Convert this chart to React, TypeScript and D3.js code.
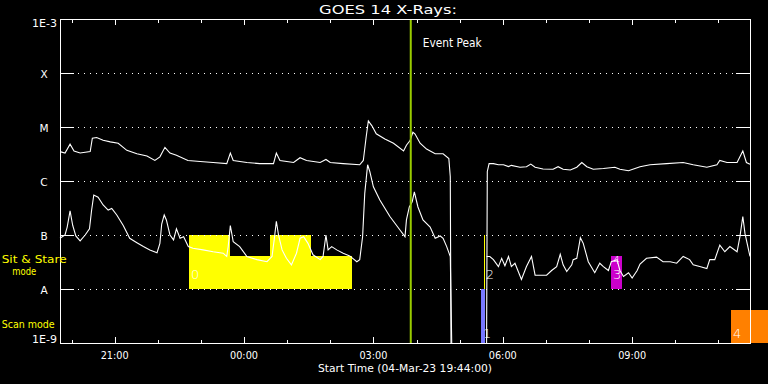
import React from 'react';
import * as d3 from 'd3';

// ---------- data ----------
const START = Date.UTC(2023, 2, 4, 19, 44, 0);
const DURATION_MIN = 960;
const EVENT_PEAK_MIN = 488;
const TITLE = 'GOES 14 X-Rays:';

const CLASS_FLUX = [1e-9, 1e-8, 1e-7, 1e-6, 1e-5, 1e-4, 1e-3];
const CLASS_LABELS = ['1E-9', 'A', 'B', 'C', 'M', 'X', '1E-3'];

// minutes since start, flux (W/m^2); null = data gap
const xrsLong: [number, number | null][] = [
  [0, 3.5e-6], [7, 3.3e-6], [14, 4.8e-6], [19.5, 3.6e-6], [28, 3.3e-6], [42, 3.5e-6], [45, 6.2e-6],
  [51, 6.4e-6], [60, 5.7e-6], [70, 5.3e-6], [81, 5.0e-6], [93, 3.7e-6], [107, 3.2e-6], [121, 2.9e-6],
  [132, 2.4e-6], [139, 2.8e-6], [146, 4.2e-6], [153, 3.3e-6], [162, 3.0e-6], [178, 2.4e-6],
  [195, 2.3e-6], [213, 2.2e-6], [232, 2.1e-6], [237, 3.3e-6], [241, 2.4e-6], [260, 2.2e-6],
  [278, 2.1e-6], [297, 2.1e-6], [301, 3.3e-6], [306, 2.4e-6], [325, 2.2e-6], [334, 2.7e-6],
  [343, 2.4e-6], [362, 2.2e-6], [370, 2.5e-6], [376, 2.2e-6], [394, 2.1e-6], [417, 2.0e-6],
  [422, 2.4e-6], [426, 6.6e-6], [429, 1.3e-5], [434, 1.05e-5], [440, 7.5e-6], [452, 6.0e-6],
  [464, 5.0e-6], [478, 3.6e-6], [482, 4.6e-6], [487, 5.6e-6], [491, 8.0e-6], [494, 7.4e-6],
  [501, 5.0e-6], [510, 3.9e-6], [522, 3.2e-6], [533, 3.2e-6], [541, 2.6e-6], [543, 1.2e-6],
  [544, 1e-9], [560, null],
  [593.5, 1e-9], [594.5, 1.5e-6], [597, 2.1e-6], [603, 2.1e-6], [610, 2.0e-6], [617, 2.0e-6],
  [624, 1.85e-6], [628, 1.95e-6], [640, 1.8e-6], [649, 1.84e-6], [655, 2.06e-6], [661, 1.8e-6],
  [672, 1.67e-6], [686, 1.65e-6], [693, 1.84e-6], [700, 1.65e-6], [710, 1.6e-6], [719, 1.8e-6],
  [726, 2.2e-6], [733, 1.84e-6], [742, 1.65e-6], [756, 1.7e-6], [772, 1.8e-6], [779, 1.65e-6],
  [791, 1.55e-6], [807, 1.84e-6], [821, 2.0e-6], [844, 2.1e-6], [867, 2.2e-6], [881, 2.0e-6],
  [900, 1.8e-6], [914, 2.0e-6], [918, 2.4e-6], [928, 2.2e-6], [942, 2.2e-6], [950, 3.6e-6],
  [955, 2.2e-6], [960, 2.04e-6],
];

const xrsShort: [number, number | null][] = [
  [0, 8.7e-8], [7, 1.0e-7], [10, 1.4e-7], [14, 2.8e-7], [17.7, 1.5e-7], [22, 9.6e-8], [28, 7.8e-8],
  [35, 1.0e-7], [41, 1.3e-7], [44, 2.9e-7], [47, 5.5e-7], [53, 5.0e-7], [60, 3.6e-7], [67, 2.9e-7],
  [72, 3.1e-7], [79, 2.35e-7], [88, 1.5e-7], [97, 8.7e-8], [107, 7.2e-8], [116, 6.1e-8],
  [125, 5.3e-8], [135, 4.7e-8], [139, 7.0e-8], [141.5, 1.6e-7], [145, 2.35e-7], [148, 1.9e-7],
  [153, 1.0e-7], [158, 8.1e-8], [162, 1.3e-7], [167, 8.7e-8], [172, 9.3e-8], [178.5, 6.1e-8],
  [185, 5.7e-8], [199, 5.3e-8], [213, 4.9e-8], [227, 4.6e-8], [232, 4.0e-8], [234, 6.1e-8],
  [237, 1.5e-7], [241, 7.5e-8], [250, 6.1e-8], [260, 4.0e-8], [274, 3.5e-8], [288, 3.2e-8],
  [295, 4.0e-8], [298, 8.1e-8], [301, 1.8e-7], [304, 1.0e-7], [309, 5.3e-8], [315, 3.7e-8],
  [322, 2.8e-8], [329, 4.6e-8], [334, 8.7e-8], [339, 9.3e-8], [345, 7.0e-8], [352, 4.3e-8],
  [362, 3.5e-8], [366, 4.0e-8], [370, 1.0e-7], [373, 5.3e-8], [378, 6.1e-8], [385, 5.3e-8],
  [394, 4.6e-8], [403, 4.1e-8], [413, 3.2e-8], [417, 3.5e-8], [421, 9.3e-8], [424, 5.9e-7],
  [428, 2.0e-6], [431, 1.5e-6], [436, 7.8e-7], [445, 4.45e-7], [459, 2.2e-7], [473, 1.24e-7],
  [480, 9.3e-8], [482, 1.9e-7], [486, 3.3e-7], [490, 4.1e-7], [493, 6.3e-7], [498, 3.3e-7],
  [505, 1.9e-7], [515, 1.4e-7], [522, 8.7e-8], [529, 9.6e-8], [533, 8.7e-8], [538, 6.1e-8],
  [543, 4.0e-8], [545, 1e-9], [560, null],
  [593.5, 4.0e-8], [598, 4.0e-8], [603, 3.5e-8], [610, 2.6e-8], [614.5, 3.7e-8], [619, 2.7e-8],
  [624, 4.0e-8], [628, 2.6e-8], [633, 3.0e-8], [642, 1.5e-8], [649, 2.6e-8], [656, 4.0e-8],
  [661, 1.8e-8], [668, 1.8e-8], [677, 1.8e-8], [684, 2.2e-8], [691, 2.6e-8], [696, 4.4e-8],
  [700, 2.8e-8], [705, 2.1e-8], [712, 2.8e-8], [714, 3.5e-8], [719, 3.7e-8], [724, 8.9e-8],
  [728, 7.0e-8], [735, 3.2e-8], [744, 2.0e-8], [751, 3.0e-8], [756, 2.6e-8], [763, 2.2e-8],
  [767, 3.2e-8], [775, 3.5e-8], [779, 2.2e-8], [784, 1.7e-8], [791, 2.0e-8], [796, 1.6e-8],
  [803, 2.2e-8], [807, 2.9e-8], [816, 3.7e-8], [830, 3.9e-8], [839, 3.2e-8], [849, 3.2e-8],
  [858, 3.0e-8], [867, 4.0e-8], [876, 3.5e-8], [881, 2.8e-8], [890, 2.6e-8], [900, 2.4e-8],
  [904, 3.5e-8], [911, 3.5e-8], [918, 6.5e-8], [925, 4.9e-8], [932, 6.1e-8], [942, 4.9e-8],
  [946, 9.3e-8], [950, 2.2e-7], [953, 1.07e-7], [958, 5.3e-8], [960, 4.0e-8],
];

// observing-mode blocks: band ('sit' = Sit & Stare, 'scan' = Scan), target id, start/end minutes, top flux
const modeBand = ['sit', 'sit', 'sit', 'sit', 'scan', 'sit', 'sit', 'scan'];
const modeTarget = [0, 0, 0, 0, 1, 2, 3, 4];
const modeStart = [179.5, 236.5, 292, 349, 585.7, 589.5, 766.6, 933.6];
const modeEnd = [236.5, 292, 349, 406.5, 591.3, 590.9, 781.9, 985];
const modeTop = [1e-7, 4.1e-8, 1e-7, 4.1e-8, 1e-8, 1e-7, 4.1e-8, 4.1e-9];

// target labels: text, time, band, stacked row
const labelText = ['0', '1', '2', '4', '3', '4'];
const labelTime = [179.5, 585.7, 589.5, 766.6, 766.6, 933.6];
const labelBand = ['sit', 'scan', 'sit', 'sit', 'sit', 'scan'];
const labelRow = [0, 0, 0, 1, 0, 0];

// ---------- styling ----------
const TARGET_COLORS = ['#ffff00', '#7878ff', '#ffff00', '#cc00cc', '#ff8000'];
const EVENT_COLOR = '#99cc00';
const FONT = 'DejaVu Sans, sans-serif';

export default function App() {
  const W = 768, H = 384;
  const L = 60, R = 750, T = 19, B = 343;
  const tm = (m: number) => new Date(START + m * 60000);
  const x = d3.scaleUtc().domain([tm(0), tm(DURATION_MIN)]).range([L, R]);
  const y = d3.scaleLog().domain([1e-9, 1e-3]).range([B, T]);

  const line = d3
    .line<[number, number | null]>()
    .defined((d) => d[1] != null)
    .x((d) => x(tm(d[0])))
    .y((d) => y(d[1] as number));

  const hours = x.ticks(d3.utcHour.every(1) as any);
  const fmt = d3.utcFormat('%H:%M');
  const startFmt = d3.utcFormat('%d-%b-%y %H:%M:%S');

  const bandBottom = (band: string) => (band === 'sit' ? 1e-8 : 1e-9);

  return (
    <svg
      width={W}
      height={H}
      style={{ position: 'absolute', left: 0, top: 0, display: 'block', background: '#000' }}
    >
      <rect x={0} y={0} width={W} height={H} fill="#000" />

      {/* mode blocks */}
      {modeStart.map((s, i) => {
        const x0 = Math.round(x(tm(s)));
        const x1 = Math.max(x0 + 1, Math.round(x(tm(modeEnd[i]))));
        const y0 = Math.round(y(modeTop[i]));
        const y1 = Math.round(y(bandBottom(modeBand[i])));
        return (
          <rect
            key={'m' + i}
            x={x0}
            y={y0}
            width={x1 - x0}
            height={y1 - y0}
            fill={TARGET_COLORS[modeTarget[i]]}
            shapeRendering="crispEdges"
          />
        );
      })}

      {/* gridlines */}
      {CLASS_FLUX.slice(1, -1).map((f, i) => (
        <line
          key={'g' + i}
          x1={78}
          x2={735}
          y1={Math.round(y(f)) + 0.5}
          y2={Math.round(y(f)) + 0.5}
          stroke="#fff"
          strokeWidth={1}
          strokeDasharray="1 5"
          shapeRendering="crispEdges"
        />
      ))}

      {/* decade ticks */}
      {CLASS_FLUX.map((f, i) => (
        <g key={'t' + i} stroke="#fff" strokeWidth={1} shapeRendering="crispEdges">
          <line x1={L} x2={L + 14} y1={Math.round(y(f)) + 0.5} y2={Math.round(y(f)) + 0.5} />
          <line x1={R - 14} x2={R} y1={Math.round(y(f)) + 0.5} y2={Math.round(y(f)) + 0.5} />
        </g>
      ))}

      {/* time ticks */}
      {hours.map((h, i) => {
        const major = h.getUTCHours() % 3 === 0;
        const len = major ? 6 : 3.5;
        const xx = Math.round(x(h)) + 0.5;
        return (
          <g key={'h' + i} stroke="#fff" strokeWidth={1} shapeRendering="crispEdges">
            <line x1={xx} x2={xx} y1={T} y2={T + len} />
            <line x1={xx} x2={xx} y1={B} y2={B - len} />
          </g>
        );
      })}

      {/* data */}
      <path d={line(xrsLong) || ''} fill="none" stroke="#fff" strokeWidth={1.1} />
      <path d={line(xrsShort) || ''} fill="none" stroke="#fff" strokeWidth={1.1} />

      {/* target labels */}
      {labelText.map((t, i) => (
        <text
          key={'l' + i}
          x={x(tm(labelTime[i])) + 2}
          y={labelBand[i] === 'sit' ? y(1e-8) - 10.5 - labelRow[i] * 15 : y(1e-9) - 5}
          fill="#fff"
          fontFamily={FONT}
          fontSize={labelRow[i] ? 11 : 13}
          fontWeight={300}
        >
          {t}
        </text>
      ))}

      {/* event peak */}
      <rect x={x(tm(EVENT_PEAK_MIN)) - 1} y={T} width={2} height={B - T} fill={EVENT_COLOR} />
      <text x={422.7} y={47} fill="#fff" fontFamily={FONT} fontSize={11.5} textLength={59} lengthAdjust="spacingAndGlyphs">
        Event Peak
      </text>

      {/* frame */}
      <rect x={L + 0.5} y={T + 0.5} width={R - L} height={B - T} fill="none" stroke="#fff" strokeWidth={1} shapeRendering="crispEdges" />

      {/* title */}
      <text x={319} y={14} fill="#fff" fontFamily={FONT} fontSize={12} textLength={138} lengthAdjust="spacingAndGlyphs">
        {TITLE}
      </text>

      {/* y labels */}
      {CLASS_LABELS.map((lab, i) => {
        const yy = y(CLASS_FLUX[i]);
        if (i === 0)
          return (
            <text key={'y' + i} x={57} y={343} textAnchor="end" fill="#fff" fontFamily={FONT} fontSize={10.5} textLength={25} lengthAdjust="spacingAndGlyphs">
              {lab}
            </text>
          );
        if (i === CLASS_LABELS.length - 1)
          return (
            <text key={'y' + i} x={57} y={27} textAnchor="end" fill="#fff" fontFamily={FONT} fontSize={10.5} textLength={25} lengthAdjust="spacingAndGlyphs">
              {lab}
            </text>
          );
        return (
          <text key={'y' + i} x={44} y={yy + 4.5} textAnchor="middle" fill="#fff" fontFamily={FONT} fontSize={10.5}>
            {lab}
          </text>
        );
      })}

      {/* mode labels */}
      <text x={1.7} y={262.5} fill="#ffff00" fontFamily={FONT} fontSize={10} textLength={65} lengthAdjust="spacingAndGlyphs">
        Sit &amp; Stare
      </text>
      <text x={12.3} y={274.5} fill="#ffff00" fontFamily={FONT} fontSize={10} textLength={24} lengthAdjust="spacingAndGlyphs">
        mode
      </text>
      <text x={1.7} y={327.5} fill="#ffff00" fontFamily={FONT} fontSize={10.5} textLength={53} lengthAdjust="spacingAndGlyphs">
        Scan mode
      </text>

      {/* x labels */}
      {hours
        .filter((h) => h.getUTCHours() % 3 === 0)
        .map((h, i) => (
          <text key={'x' + i} x={x(h)} y={359} textAnchor="middle" fill="#fff" fontFamily={FONT} fontSize={10.5} textLength={28} lengthAdjust="spacingAndGlyphs">
            {fmt(h)}
          </text>
        ))}
      <text x={318} y={371.5} fill="#fff" fontFamily={FONT} fontSize={11} textLength={174} lengthAdjust="spacingAndGlyphs">
        {`Start Time (${startFmt(tm(0))})`}
      </text>
    </svg>
  );
}
